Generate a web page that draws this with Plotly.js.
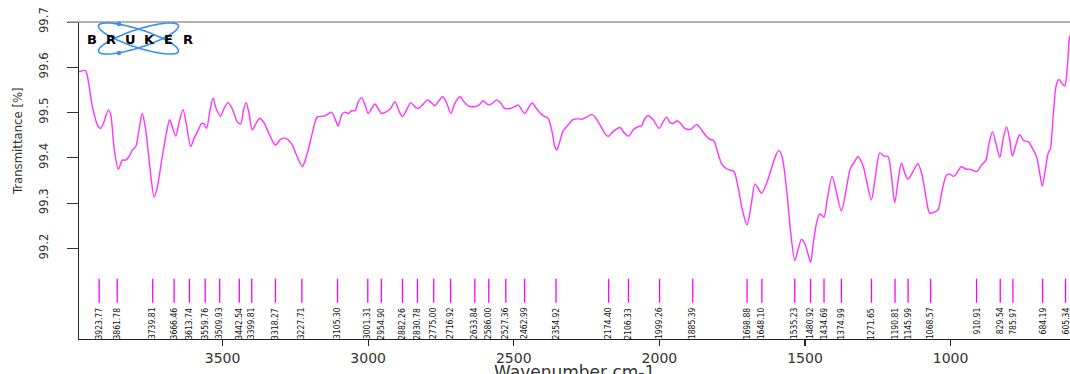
<!DOCTYPE html>
<html>
<head>
<meta charset="utf-8">
<script src="https://cdn.plot.ly/plotly-3.0.1.min.js"></script>
<style>html,body{margin:0;padding:0;background:#fff;}#chart{width:1070px;height:374px;}</style>
</head>
<body>
<div id="chart"></div>
<script>
// Spectrum (wavenumber cm-1, transmittance %)
const wavenumber = [
3993,3972,3965,3947,3930,3918,3907,3892,3884,3873,3858,3844,3833,3821,3810,3798,3787,3776,3764,3750,
3735,3724,3707,3693,3682,3673,3661,3650,3636,3625,3609,3598,3583,3572,3564,3555,3544,3533,3522,3507,
3495,3481,3467,3450,3438,3427,3419,3409,3398,3386,3373,3358,3341,3318,3301,3283,3263,3244,3226,3209,
3192,3175,3152,3135,3126,3114,3103,3091,3080,3068,3057,3045,3034,3022,3011,3000,2988,2977,2966,2954,
2937,2923,2908,2893,2882,2868,2854,2840,2828,2813,2797,2782,2771,2757,2744,2731,2716,2702,2685,2671,
2657,2634,2619,2605,2593,2582,2571,2559,2545,2531,2513,2496,2485,2473,2462,2451,2437,2422,2408,2393,
2382,2370,2359,2353,2344,2330,2313,2296,2275,2267,2250,2233,2222,2204,2187,2176,2159,2136,2119,2105,
2090,2073,2061,2050,2039,2021,2001,1987,1975,1964,1953,1939,1927,1913,1893,1872,1859,1838,1827,1813,
1802,1787,1772,1758,1744,1730,1715,1699,1684,1672,1661,1649,1632,1615,1600,1590,1579,1563,1550,1535,
1524,1512,1501,1489,1481,1470,1458,1449,1435,1424,1407,1394,1375,1357,1344,1329,1318,1300,1287,1272,
1260,1243,1229,1215,1203,1192,1180,1169,1157,1146,1129,1112,1098,1083,1072,1054,1043,1031,1014,1003,
989,978,963,948,934,923,909,894,879,868,856,843,831,820,808,797,788,776,763,749,
734,719,705,694,685,673,665,657,648,637,628,616,608,600,593,591
];
const transmittance = [
99.590,99.593,99.583,99.513,99.473,99.465,99.480,99.506,99.495,99.425,99.375,99.395,99.395,99.403,99.417,99.425,99.462,99.498,99.462,99.381,
99.313,99.336,99.403,99.454,99.484,99.469,99.448,99.476,99.507,99.476,99.425,99.443,99.462,99.476,99.475,99.465,99.502,99.532,99.509,99.492,
99.509,99.522,99.509,99.480,99.475,99.509,99.522,99.498,99.462,99.475,99.487,99.478,99.454,99.428,99.441,99.443,99.431,99.403,99.381,99.410,
99.454,99.490,99.492,99.498,99.501,99.487,99.470,99.495,99.501,99.498,99.504,99.504,99.524,99.533,99.517,99.498,99.509,99.519,99.509,99.498,
99.502,99.509,99.524,99.502,99.491,99.506,99.522,99.513,99.509,99.517,99.528,99.521,99.515,99.526,99.535,99.522,99.498,99.521,99.535,99.524,
99.515,99.513,99.517,99.526,99.519,99.517,99.522,99.528,99.521,99.509,99.509,99.513,99.517,99.506,99.498,99.509,99.521,99.509,99.498,99.491,
99.487,99.462,99.425,99.417,99.432,99.460,99.473,99.485,99.486,99.485,99.490,99.496,99.491,99.473,99.454,99.447,99.458,99.467,99.454,99.448,
99.462,99.469,99.471,99.487,99.493,99.484,99.465,99.480,99.490,99.478,99.476,99.482,99.476,99.465,99.463,99.474,99.465,99.447,99.441,99.438,
99.417,99.388,99.377,99.373,99.370,99.336,99.285,99.252,99.300,99.342,99.333,99.322,99.344,99.377,99.406,99.416,99.403,99.329,99.241,99.173,
99.197,99.220,99.211,99.186,99.169,99.219,99.263,99.276,99.269,99.307,99.359,99.329,99.283,99.336,99.377,99.392,99.403,99.381,99.344,99.307,
99.351,99.411,99.404,99.403,99.359,99.301,99.351,99.389,99.366,99.353,99.370,99.387,99.362,99.307,99.278,99.281,99.285,99.322,99.362,99.364,
99.359,99.367,99.381,99.375,99.375,99.372,99.370,99.384,99.395,99.432,99.458,99.428,99.401,99.440,99.469,99.440,99.404,99.428,99.451,99.438,
99.436,99.421,99.403,99.366,99.338,99.381,99.410,99.421,99.491,99.561,99.573,99.563,99.559,99.594,99.660,99.670
];
// Labelled peak positions
const peakPositions = [
3923.77,3861.78,3739.81,3666.46,3613.74,3559.76,3509.93,3442.54,3399.81,3318.27,3227.71,3105.30,
3001.31,2954.90,2882.26,2830.78,2775.00,2716.92,2633.84,2586.00,2527.36,2462.99,2354.92,2174.40,
2106.33,1999.26,1885.39,1698.88,1648.10,1535.23,1480.92,1434.69,1374.99,1271.65,1190.81,1145.99,
1068.57,910.91,829.54,785.97,684.19,605.34
];
const peakLabels = peakPositions.map(v => v.toFixed(2));
const xTickValues = [1000, 1500, 2000, 2500, 3000, 3500];
const yTickValues = [99.2, 99.3, 99.4, 99.5, 99.6, 99.7];
const logoLetters = ['B','R','U','K','E','R'];

// geometry helpers (page pixels -> paper coords)
const L = 79, R = 1070, T = 22, B = 339;
const px = x => (x - L) / (R - L);
const py = y => (B - y) / (B - T);
const NARROW = 'DejaVu Sans Condensed, Liberation Sans Narrow, Liberation Sans, sans-serif';

// peak marker segments
const mx = [], my = [];
const markLo = 99.080, markHi = 99.133;
peakPositions.forEach(p => { mx.push(p, p, null); my.push(markLo, markHi, null); });

const traces = [
  {x: wavenumber, y: transmittance, type: 'scatter', mode: 'lines',
   line: {color: '#ff33ff', width: 1.4, shape: 'spline', smoothing: 0.8},
   hoverinfo: 'x+y', showlegend: false},
  {x: mx, y: my, type: 'scatter', mode: 'lines',
   line: {color: '#ff00ff', width: 1.3}, hoverinfo: 'skip', showlegend: false}
];

const annotations = peakPositions.map((p, i) => ({
  x: p, y: 99.072, xref: 'x', yref: 'y', text: peakLabels[i], showarrow: false,
  textangle: -90, xanchor: 'center', yanchor: 'top', borderpad: 0,
  font: {family: NARROW, size: 8.5, color: '#111'}
}));
// y axis title
annotations.push({
  x: px(17), y: py(141), xref: 'paper', yref: 'paper', text: 'Transmittance [%]',
  showarrow: false, textangle: -90, xanchor: 'center', yanchor: 'middle',
  font: {family: NARROW, size: 13, color: '#333'}
});
// x axis title
annotations.push({
  x: 0.5, y: py(372), xref: 'paper', yref: 'paper', text: 'Wavenumber cm-1',
  showarrow: false, xanchor: 'center', yanchor: 'middle',
  font: {family: 'DejaVu Sans, sans-serif', size: 17, color: '#333'}
});
// BRUKER logo text
logoLetters.forEach((ch, i) => {
  annotations.push({
    x: px(91.6 + i * 19.2), y: py(39), xref: 'paper', yref: 'paper', text: '<b>' + ch + '</b>',
    showarrow: false, xanchor: 'center', yanchor: 'middle',
    font: {family: 'DejaVu Sans, sans-serif', size: 13, color: '#000'}
  });
});

function ellipsePath(cx, cy, a, b, deg) {
  const th = deg * Math.PI / 180;
  let d = '';
  for (let k = 0; k <= 72; k++) {
    const t = k / 72 * 2 * Math.PI;
    const ex = a * Math.cos(t), ey = b * Math.sin(t);
    const X = cx + ex * Math.cos(th) - ey * Math.sin(th);
    const Y = cy + ex * Math.sin(th) + ey * Math.cos(th);
    d += (k === 0 ? 'M' : 'L') + px(X).toFixed(5) + ',' + py(Y).toFixed(5);
  }
  return d + 'Z';
}

const shapes = [
  {type: 'line', xref: 'paper', yref: 'paper', x0: px(68), x1: 1, y0: 1, y1: 1,
   line: {color: '#9a9a9a', width: 1.5}},
  {type: 'path', xref: 'paper', yref: 'paper', path: ellipsePath(138.5, 38.5, 42, 9, 18),
   line: {color: '#3d8fe8', width: 1.6}},
  {type: 'path', xref: 'paper', yref: 'paper', path: ellipsePath(138.5, 38.5, 42, 9, -18),
   line: {color: '#3d8fe8', width: 1.6}},
  {type: 'circle', xref: 'paper', yref: 'paper', x0: px(116.8), x1: px(121.2), y0: py(26.2), y1: py(21.8),
   fillcolor: '#3d8fe8', line: {width: 0}},
  {type: 'circle', xref: 'paper', yref: 'paper', x0: px(116.8), x1: px(121.2), y0: py(55.2), y1: py(50.8),
   fillcolor: '#3d8fe8', line: {width: 0}}
];

const layout = {
  width: 1070, height: 374,
  margin: {l: L, r: 1070 - R, t: T, b: 374 - B, pad: 0},
  paper_bgcolor: '#fff', plot_bgcolor: '#fff',
  showlegend: false,
  xaxis: {
    range: [3993, 590], showgrid: false, zeroline: false,
    showline: true, linecolor: '#222', linewidth: 1.2,
    tickmode: 'array', tickvals: xTickValues, ticktext: xTickValues.map(String),
    ticks: 'outside', ticklen: 6, tickcolor: '#222', tickwidth: 1.2,
    tickfont: {family: 'DejaVu Sans, sans-serif', size: 14, color: '#333'}
  },
  yaxis: {
    range: [99.0, 99.7], showgrid: false, zeroline: false,
    showline: true, linecolor: '#222', linewidth: 1.2,
    tickmode: 'array', tickvals: yTickValues, ticktext: yTickValues.map(v => v.toFixed(1)),
    ticks: 'outside', ticklen: 11, tickcolor: '#333', tickwidth: 1,
    tickangle: -90, ticklabelstandoff: 14,
    tickfont: {family: NARROW, size: 13, color: '#333'}
  },
  annotations: annotations,
  shapes: shapes
};

Plotly.newPlot('chart', traces, layout, {staticPlot: true, displayModeBar: false});
</script>
</body>
</html>
